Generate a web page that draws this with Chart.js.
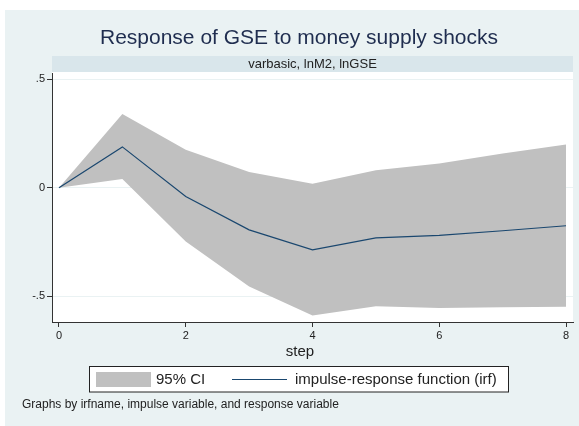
<!DOCTYPE html>
<html><head><meta charset="utf-8">
<script src="https://cdn.jsdelivr.net/npm/chart.js@4/dist/chart.umd.min.js"></script>
<style>html,body{margin:0;padding:0;background:#fff;} #wrap{width:579px;height:426px;position:relative}</style>
</head><body><div id="wrap"><canvas id="c" width="579" height="426"></canvas></div>
<script>
const steps = [0, 1, 2, 3, 4, 5, 6, 7, 8];
const irf = [0, 0.188, -0.040, -0.194, -0.286, -0.231, -0.219, -0.198, -0.175];
const ciUpper = [0, 0.339, 0.175, 0.072, 0.018, 0.080, 0.111, 0.157, 0.199];
const ciLower = [0, 0.040, -0.247, -0.455, -0.588, -0.545, -0.553, -0.550, -0.548];
const xTicks = [0, 2, 4, 6, 8];
const yTicks = [-0.5, 0, 0.5];
const yTickLabels = ['-.5', '0', '.5'];
const titleText = 'Response of GSE to money supply shocks';
const subtitleText = 'varbasic, lnM2, lnGSE';
const xAxisTitle = 'step';
const legendLabels = ['95% CI', 'impulse-response function (irf)'];
const noteText = 'Graphs by irfname, impulse variable, and response variable';

const FONT = '"Liberation Sans", Arial, sans-serif';
const BG = '#eaf2f3';
const BAND = '#d9e6eb';
const CI_COLOR = '#c0c0c0';
const LINE_COLOR = '#1a476f';

const pts = (ys) => steps.map((s, i) => ({x: s, y: ys[i]}));

const decor = {
  id: 'decor',
  beforeDraw(chart) {
    const ctx = chart.ctx, a = chart.chartArea;
    ctx.save();
    ctx.fillStyle = '#ffffff';
    ctx.fillRect(0, 0, chart.width, chart.height);
    ctx.fillStyle = BG;
    ctx.fillRect(5, 10, chart.width - 5, chart.height - 10);
    ctx.fillStyle = BAND;
    ctx.fillRect(a.left, 56, a.right - a.left, 16);
    ctx.fillStyle = '#ffffff';
    ctx.fillRect(a.left, 72, a.right - a.left, a.bottom - 72);
    ctx.restore();
  },
  afterDraw(chart) {
    const ctx = chart.ctx, a = chart.chartArea;
    const cx = (a.left + a.right) / 2;
    ctx.save();
    ctx.textBaseline = 'middle';
    // title
    ctx.fillStyle = '#1f2d4f';
    ctx.font = '21px ' + FONT;
    ctx.textAlign = 'center';
    ctx.fillText(titleText, 299, 38);
    // subtitle
    ctx.fillStyle = '#222222';
    ctx.font = '13px ' + FONT;
    ctx.fillText(subtitleText, cx, 64);
    // x axis title
    ctx.font = '15px ' + FONT;
    ctx.fillText(xAxisTitle, 300, 352);
    // legend
    const lx = 89.5, ly = 366.5, lw = 419, lh = 25.5;
    ctx.fillStyle = '#ffffff';
    ctx.fillRect(lx, ly, lw, lh);
    ctx.strokeStyle = '#222222';
    ctx.lineWidth = 1;
    ctx.strokeRect(lx, ly, lw, lh);
    ctx.fillStyle = CI_COLOR;
    ctx.fillRect(96, 372, 55, 15);
    ctx.strokeStyle = LINE_COLOR;
    ctx.lineWidth = 1.2;
    ctx.beginPath();
    ctx.moveTo(232, 379.5);
    ctx.lineTo(287, 379.5);
    ctx.stroke();
    ctx.fillStyle = '#222222';
    ctx.font = '15px ' + FONT;
    ctx.textAlign = 'left';
    ctx.fillText(legendLabels[0], 156, 380);
    ctx.fillText(legendLabels[1], 295, 380);
    // note
    ctx.font = '12px ' + FONT;
    ctx.fillText(noteText, 22, 405);
    ctx.restore();
  }
};

new Chart(document.getElementById('c'), {
  type: 'line',
  data: {
    datasets: [
      { label: legendLabels[1], data: pts(irf), borderColor: LINE_COLOR, borderWidth: 1.2,
        pointRadius: 0, fill: false, tension: 0 },
      { label: legendLabels[0] + ' upper', data: pts(ciUpper), borderColor: 'rgba(0,0,0,0)', borderWidth: 0,
        backgroundColor: CI_COLOR, pointRadius: 0, fill: '+1', tension: 0 },
      { label: legendLabels[0] + ' lower', data: pts(ciLower), borderColor: 'rgba(0,0,0,0)', borderWidth: 0,
        backgroundColor: CI_COLOR, pointRadius: 0, fill: false, tension: 0 }
    ]
  },
  options: {
    responsive: false,
    animation: false,
    devicePixelRatio: 1,
    layout: { padding: { left: 0, top: 73, right: 6, bottom: 0 } },
    plugins: { legend: { display: false }, tooltip: { enabled: false } },
    scales: {
      x: {
        type: 'linear', min: -0.11, max: 8.11,
        afterBuildTicks: (s) => { s.ticks = xTicks.map(v => ({value: v})); },
        afterFit: (s) => { s.height = 104; },
        grid: { drawOnChartArea: false, tickLength: 5, tickColor: '#333333' },
        border: { color: '#333333', width: 1 },
        ticks: { color: '#222222', font: { family: FONT, size: 11 }, padding: 2, maxRotation: 0,
          callback: (v) => String(v) }
      },
      y: {
        type: 'linear', min: -0.618, max: 0.528,
        afterBuildTicks: (s) => { s.ticks = yTicks.map(v => ({value: v})); },
        afterFit: (s) => { s.width = 52; },
        grid: { color: BG, tickLength: 5, tickColor: '#333333' },
        border: { color: '#333333', width: 1 },
        ticks: { color: '#222222', font: { family: FONT, size: 11 }, padding: 2,
          callback: (v) => yTickLabels[yTicks.indexOf(v)] }
      }
    }
  },
  plugins: [decor]
});
</script></body></html>
